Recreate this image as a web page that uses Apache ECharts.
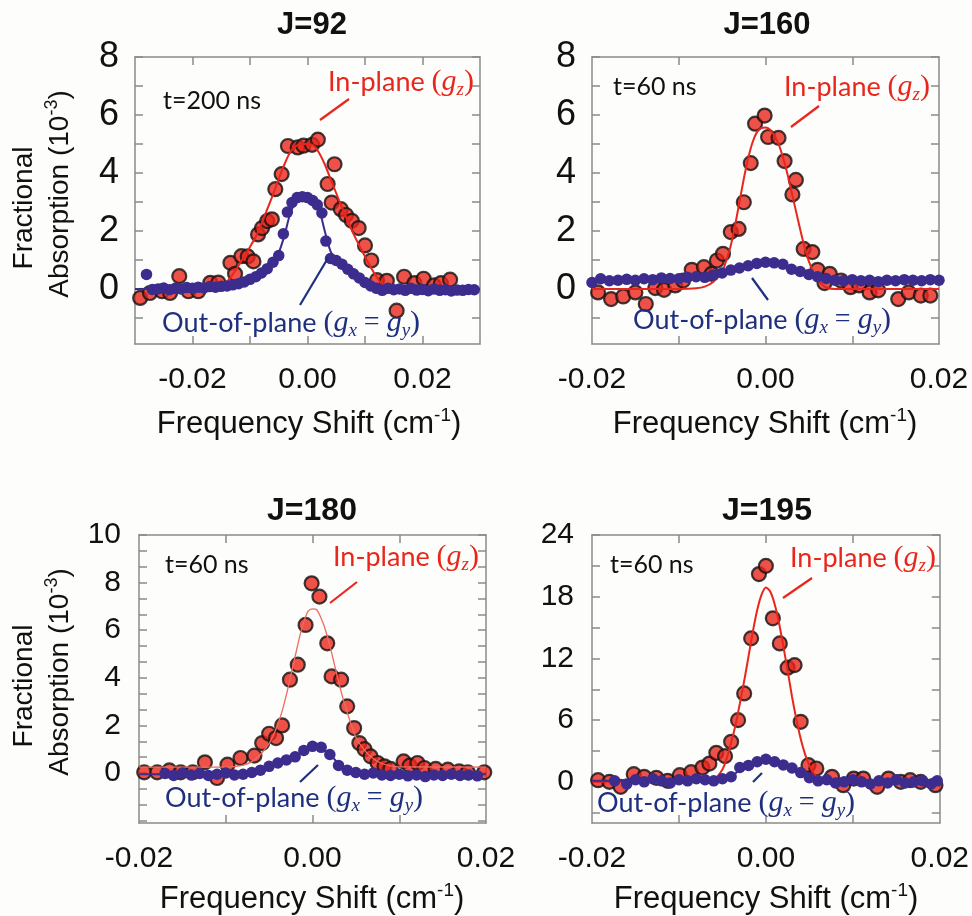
<!DOCTYPE html>
<html>
<head>
<meta charset="utf-8">
<script src="https://cdn.jsdelivr.net/npm/echarts@6/dist/echarts.min.js"></script>
<style>
  html, body { margin: 0; padding: 0; background: #fdfdfb; }
  #chart { width: 972px; height: 916px; }
</style>
</head>
<body>
<div id="chart"></div>
<script>
// tick / label values
const xTicksWide = [-0.02, -0.01, 0, 0.01, 0.02];
const xTicksNarrow = [-0.01, 0, 0.01];
const xLabels = [-0.02, 0, 0.02];
const yTicks8 = [-1, 0, 1, 2, 3, 4, 5, 6, 7, 8];
const yLabels8 = [0, 2, 4, 6, 8];
const yTicks10 = [-2, -4/3, -2/3, 0, 2/3, 4/3, 2, 8/3, 10/3, 4, 14/3, 16/3, 6, 20/3, 22/3, 8, 26/3, 28/3, 10];
const yLabels10 = [0, 2, 4, 6, 8, 10];
const yTicks24 = [-3, 0, 3, 6, 9, 12, 15, 18, 21, 24];
const yLabels24 = [0, 6, 12, 18, 24];

// J=92
const inJ92 = [[-0.0291,-0.31],[-0.0274,-0.14],[-0.0253,-0.08],[-0.0239,-0.14],[-0.0223,0.44],[-0.0207,-0.08],[-0.019,-0.08],[-0.0169,0.21],[-0.0155,0.22],[-0.0134,0.9],[-0.0126,0.52],[-0.0115,1.13],[-0.0104,1.12],[-0.0094,0.95],[-0.0086,1.88],[-0.0079,2.1],[-0.007,2.34],[-0.0062,2.4],[-0.0056,3.44],[-0.0045,3.96],[-0.0034,4.93],[-0.0017,4.88],[-0.0007,4.94],[0.0008,4.97],[0.0018,5.15],[0.0035,3.62],[0.0047,4.3],[0.0042,2.98],[0.0058,2.75],[0.0067,2.55],[0.0077,2.35],[0.0089,2.1],[0.01,1.5],[0.0111,0.98],[0.0121,0.3],[0.0138,0.28],[0.0155,-0.75],[0.0168,0.42],[0.0186,0.2],[0.0202,0.35],[0.022,0.12],[0.0232,0.2],[0.0248,0.32]];
const inFitJ92 = [[-0.03,0],[-0.02,0],[-0.016,0.02],[-0.015,0.08],[-0.014,0.25],[-0.013,0.5],[-0.012,0.8],[-0.011,1.12],[-0.01,1.45],[-0.009,1.8],[-0.008,2.25],[-0.007,2.75],[-0.006,3.25],[-0.005,3.8],[-0.004,4.3],[-0.003,4.72],[-0.002,4.93],[-0.001,5.0],[0,5.0],[0.001,4.95],[0.002,4.7],[0.003,4.3],[0.004,3.8],[0.005,3.3],[0.006,2.8],[0.007,2.35],[0.008,1.9],[0.009,1.5],[0.01,1.12],[0.011,0.75],[0.012,0.42],[0.013,0.15],[0.014,0.02],[0.015,0],[0.03,0]];
const outJ92 = [[-0.028,0.5],[-0.027,-0.02],[-0.026,0],[-0.025,0.03],[-0.024,-0.03],[-0.023,0.02],[-0.022,0],[-0.021,0.05],[-0.02,0.02],[-0.019,0.06],[-0.018,0.03],[-0.017,0.08],[-0.016,0.06],[-0.015,0.09],[-0.014,0.1],[-0.013,0.14],[-0.012,0.18],[-0.011,0.24],[-0.01,0.33],[-0.009,0.42],[-0.008,0.55],[-0.007,0.7],[-0.006,0.92],[-0.005,1.15],[-0.0042,1.9],[-0.0035,2.65],[-0.0027,2.98],[-0.0018,3.15],[-0.0009,3.18],[0,3.15],[0.0009,3.05],[0.0017,2.9],[0.0025,2.62],[0.0032,1.65],[0.004,1.05],[0.005,0.98],[0.006,0.85],[0.007,0.68],[0.008,0.52],[0.009,0.38],[0.01,0.22],[0.011,0.1],[0.012,0.02],[0.013,-0.05],[0.014,0.02],[0.015,-0.03],[0.016,0],[0.017,-0.05],[0.018,0.02],[0.019,-0.04],[0.02,-0.02],[0.021,-0.06],[0.022,0],[0.023,-0.05],[0.024,-0.03],[0.025,-0.07],[0.026,-0.04],[0.027,-0.05],[0.028,-0.02],[0.029,-0.03]];
const outFitJ92 = [[-0.03,0],[-0.02,0.02],[-0.015,0.08],[-0.012,0.18],[-0.01,0.32],[-0.008,0.55],[-0.006,0.92],[-0.005,1.25],[-0.004,1.85],[-0.003,2.6],[-0.002,3.0],[-0.001,3.15],[0,3.15],[0.001,3.05],[0.002,2.75],[0.003,2.0],[0.004,1.3],[0.005,1.0],[0.006,0.82],[0.008,0.5],[0.01,0.22],[0.012,0.04],[0.015,0],[0.03,0]];

// J=160
const inJ160 = [[-0.0193,-0.12],[-0.0178,-0.35],[-0.0164,-0.26],[-0.015,-0.12],[-0.0138,-0.52],[-0.0127,0.03],[-0.0117,-0.03],[-0.0104,0.12],[-0.0095,0.29],[-0.0085,0.66],[-0.0071,0.75],[-0.0062,0.52],[-0.0056,0.98],[-0.0049,1.21],[-0.004,1.96],[-0.0031,2.07],[-0.0025,2.99],[-0.0017,4.34],[-0.0012,5.7],[-0.0001,5.98],[0.0003,5.24],[0.0015,5.21],[0.0022,4.41],[0.0035,3.76],[0.0031,3.26],[0.0044,1.38],[0.0054,1.27],[0.006,0.66],[0.0068,0.2],[0.0074,0.52],[0.0087,0.29],[0.0098,0.06],[0.0108,0.12],[0.012,-0.12],[0.013,-0.05],[0.0153,-0.35],[0.0165,-0.12],[0.0179,-0.23],[0.019,-0.23]];
const inFitJ160 = [[-0.02,0],[-0.01,0],[-0.008,0.02],[-0.007,0.08],[-0.006,0.25],[-0.005,0.6],[-0.0045,1.0],[-0.004,1.5],[-0.0035,2.2],[-0.003,3.0],[-0.0025,3.8],[-0.002,4.5],[-0.0015,5.05],[-0.001,5.4],[-0.0005,5.55],[0,5.57],[0.0005,5.5],[0.001,5.3],[0.0015,5.0],[0.002,4.55],[0.0025,4.0],[0.003,3.35],[0.0035,2.7],[0.004,2.05],[0.0045,1.45],[0.005,0.95],[0.0055,0.6],[0.006,0.33],[0.0065,0.15],[0.007,0.05],[0.008,0],[0.02,0]];
const outJ160 = [[-0.02,0.22],[-0.019,0.35],[-0.018,0.28],[-0.017,0.3],[-0.016,0.33],[-0.015,0.3],[-0.014,0.35],[-0.013,0.32],[-0.012,0.38],[-0.011,0.36],[-0.01,0.35],[-0.009,0.4],[-0.008,0.42],[-0.007,0.4],[-0.006,0.48],[-0.005,0.55],[-0.004,0.65],[-0.003,0.72],[-0.002,0.8],[-0.001,0.88],[0,0.92],[0.001,0.9],[0.002,0.85],[0.003,0.68],[0.004,0.6],[0.005,0.5],[0.006,0.42],[0.007,0.36],[0.008,0.3],[0.009,0.28],[0.01,0.32],[0.011,0.28],[0.012,0.3],[0.013,0.25],[0.014,0.3],[0.015,0.28],[0.016,0.32],[0.017,0.3],[0.018,0.28],[0.019,0.32],[0.02,0.3]];
const outFitJ160 = [[-0.02,0.3],[-0.01,0.36],[-0.006,0.46],[-0.004,0.62],[-0.002,0.8],[0,0.9],[0.002,0.82],[0.004,0.62],[0.006,0.44],[0.008,0.34],[0.01,0.3],[0.02,0.3]];

// J=180
const inJ180 = [[-0.0194,0.03],[-0.0179,0.03],[-0.0165,0.11],[-0.0152,0.03],[-0.0138,0.03],[-0.0124,0.45],[-0.011,-0.21],[-0.0098,0.35],[-0.0083,0.63],[-0.0067,0.73],[-0.0058,1.26],[-0.005,1.65],[-0.0042,1.47],[-0.0035,2.0],[-0.0026,3.92],[-0.0017,4.55],[-0.0008,6.22],[-0.0001,7.97],[0.0008,7.41],[0.0017,5.45],[0.0022,4.06],[0.0033,3.92],[0.004,2.8],[0.0048,1.89],[0.0054,1.26],[0.006,1.0],[0.0067,0.7],[0.0075,0.42],[0.0083,0.28],[0.009,0.17],[0.0105,0.49],[0.0112,0.31],[0.0121,0.42],[0.0129,0.21],[0.0142,0.17],[0.0156,0.14],[0.0169,0.07],[0.0179,0.03],[0.0198,0.03]];
const inFitJ180 = [[-0.02,0.25],[-0.01,0.25],[-0.009,0.27],[-0.008,0.33],[-0.007,0.48],[-0.006,0.78],[-0.005,1.25],[-0.0045,1.6],[-0.004,2.05],[-0.0035,2.6],[-0.003,3.3],[-0.0025,4.1],[-0.002,4.9],[-0.0015,5.7],[-0.001,6.35],[-0.0005,6.8],[0,6.9],[0.0005,6.85],[0.001,6.5],[0.0015,6.0],[0.002,5.35],[0.0025,4.6],[0.003,3.85],[0.0035,3.15],[0.004,2.55],[0.0045,2.0],[0.005,1.5],[0.006,0.95],[0.007,0.6],[0.008,0.4],[0.009,0.3],[0.01,0.26],[0.02,0.25]];
const outJ180 = [[-0.017,-0.02],[-0.016,-0.1],[-0.015,0],[-0.014,-0.08],[-0.013,-0.02],[-0.012,-0.1],[-0.011,-0.05],[-0.01,0],[-0.009,-0.08],[-0.008,-0.05],[-0.007,0.02],[-0.006,0.12],[-0.005,0.28],[-0.004,0.42],[-0.003,0.55],[-0.002,0.68],[-0.001,0.95],[0,1.12],[0.001,1.08],[0.002,0.78],[0.003,0.32],[0.004,0.12],[0.005,0.02],[0.006,-0.05],[0.007,0],[0.008,-0.08],[0.009,-0.1],[0.01,-0.05],[0.011,-0.12],[0.012,-0.08],[0.013,-0.15],[0.014,-0.08],[0.015,-0.1],[0.016,-0.05],[0.017,-0.1],[0.018,-0.08],[0.019,-0.12]];
const outFitJ180 = [[-0.02,-0.05],[-0.008,-0.03],[-0.006,0.1],[-0.004,0.38],[-0.002,0.7],[-0.001,0.95],[0,1.1],[0.001,1.05],[0.002,0.8],[0.003,0.38],[0.004,0.1],[0.006,-0.05],[0.02,-0.05]];

// J=195
const inJ195 = [[-0.0193,0.16],[-0.018,0],[-0.0167,-0.49],[-0.0152,0.75],[-0.014,0.49],[-0.0126,0.39],[-0.0113,0.1],[-0.0099,0.65],[-0.0086,0.94],[-0.0073,1.39],[-0.0065,1.78],[-0.0057,2.82],[-0.0047,2.5],[-0.004,3.89],[-0.0032,6.0],[-0.0025,8.6],[-0.0017,13.95],[-0.0008,20.2],[0,21.0],[0.0008,15.9],[0.0016,13.46],[0.0025,11.1],[0.0033,11.35],[0.004,5.84],[0.0049,1.62],[0.0058,1.3],[0.0076,0.49],[0.0089,-0.32],[0.0101,0.32],[0.0112,0.32],[0.0128,-0.49],[0.0141,0.32],[0.0155,0],[0.0166,0.16],[0.0178,0],[0.0195,-0.32]];
const inFitJ195 = [[-0.02,0],[-0.007,0],[-0.006,0.2],[-0.005,1.2],[-0.0045,2.3],[-0.004,3.8],[-0.0035,5.5],[-0.003,7.6],[-0.0025,9.8],[-0.002,12.2],[-0.0015,14.6],[-0.001,16.7],[-0.0005,18.2],[0,18.9],[0.0005,18.5],[0.001,17.3],[0.0015,15.5],[0.002,13.2],[0.0025,10.8],[0.003,8.3],[0.0035,6.1],[0.004,4.2],[0.0045,2.7],[0.005,1.6],[0.0055,0.8],[0.006,0.3],[0.0065,0.1],[0.007,0],[0.02,0]];
const outJ195 = [[-0.0174,0.1],[-0.016,-0.2],[-0.015,0.2],[-0.014,0],[-0.013,0.3],[-0.012,0.1],[-0.011,-0.1],[-0.01,0.2],[-0.009,0.1],[-0.008,0.3],[-0.007,0.2],[-0.006,0.1],[-0.005,0.3],[-0.004,0.5],[-0.003,1.4],[-0.002,1.6],[-0.001,1.95],[0,2.2],[0.001,1.95],[0.002,1.65],[0.003,1.35],[0.004,0.9],[0.005,0.4],[0.006,0.1],[0.007,0.2],[0.008,-0.1],[0.009,0],[0.01,0.2],[0.011,0],[0.012,-0.2],[0.013,0.1],[0.014,-0.1],[0.015,0.2],[0.016,-0.1],[0.017,0],[0.018,0.1],[0.019,-0.2],[0.0197,0.1]];
const outFitJ195 = [[-0.02,0.1],[-0.006,0.1],[-0.004,0.5],[-0.003,1.2],[-0.002,1.6],[-0.001,1.95],[0,2.1],[0.001,1.95],[0.002,1.65],[0.003,1.3],[0.004,0.85],[0.005,0.4],[0.006,0.15],[0.02,0.05]];

const RED = '#e8261c', BLUE = '#3b2c8e', NAVY = '#1f2f80', AXIS = '#8a8a8a';
const FONT = '"Liberation Sans", Arial, sans-serif';
const SERIF = '"Liberation Serif", serif';

const panels = [
  { grid: {left: 135, top: 57, width: 345, height: 287}, x: [-0.03, 0.03], xTicks: xTicksWide, y: [-1.9, 8], yTicks: yTicks8, yLabels: yLabels8, yFont: 36, yMargin: 16,
    red: inJ92, redFit: inFitJ92, blue: outJ92, blueFit: outFitJ92, fitColor: RED, fitWidth: 2 },
  { grid: {left: 592, top: 57, width: 347, height: 287}, x: [-0.02, 0.02], xTicks: xTicksNarrow, y: [-1.9, 8], yTicks: yTicks8, yLabels: yLabels8, yFont: 36, yMargin: 16,
    red: inJ160, redFit: inFitJ160, blue: outJ160, blueFit: outFitJ160, fitColor: RED, fitWidth: 2 },
  { grid: {left: 139, top: 535, width: 347, height: 288}, x: [-0.02, 0.02], xTicks: xTicksNarrow, y: [-2.1, 10], yTicks: yTicks10, yLabels: yLabels10, yFont: 30, yMargin: 18,
    red: inJ180, redFit: inFitJ180, blue: outJ180, blueFit: outFitJ180, fitColor: '#f06a5e', fitWidth: 1.3 },
  { grid: {left: 592, top: 535, width: 348, height: 288}, x: [-0.02, 0.02], xTicks: xTicksNarrow, y: [-4, 24], yTicks: yTicks24, yLabels: yLabels24, yFont: 30, yMargin: 18,
    red: inJ195, redFit: inFitJ195, blue: outJ195, blueFit: outFitJ195, fitColor: RED, fitWidth: 2 }
];

const line = {onZero: false, lineStyle: {color: AXIS, width: 1.5}};
function tick(values) {
  return {inside: true, length: 8, customValues: values, lineStyle: {color: AXIS, width: 1.5}};
}

const grid = [], xAxis = [], yAxis = [], series = [];
panels.forEach(function (p, i) {
  grid.push(p.grid);
  xAxis[i] = {type: 'value', gridIndex: i, min: p.x[0], max: p.x[1], position: 'bottom', axisLine: line,
    axisTick: tick(p.xTicks), splitLine: {show: false},
    axisLabel: {customValues: xLabels, margin: 21, color: '#111', fontSize: 30, fontFamily: FONT,
      formatter: function (v) { return v.toFixed(2); }}};
  xAxis[4 + i] = {type: 'value', gridIndex: i, min: p.x[0], max: p.x[1], position: 'top', axisLine: line,
    axisTick: tick(p.xTicks), splitLine: {show: false}, axisLabel: {show: false}};
  yAxis[i] = {type: 'value', gridIndex: i, min: p.y[0], max: p.y[1], position: 'left', axisLine: line,
    axisTick: tick(p.yTicks), splitLine: {show: false},
    axisLabel: {customValues: p.yLabels, margin: p.yMargin, color: '#111', fontSize: p.yFont, fontFamily: FONT}};
  yAxis[4 + i] = {type: 'value', gridIndex: i, min: p.y[0], max: p.y[1], position: 'right', axisLine: line,
    axisTick: tick(p.yTicks), splitLine: {show: false}, axisLabel: {show: false}};

  series.push({type: 'scatter', xAxisIndex: i, yAxisIndex: i, data: p.red, symbolSize: 14, z: 2,
    itemStyle: {color: RED, borderColor: '#111', borderWidth: 2.2}});
  series.push({type: 'line', xAxisIndex: i, yAxisIndex: i, data: p.redFit, showSymbol: false, smooth: 0.25, z: 3,
    lineStyle: {color: p.fitColor, width: p.fitWidth}});
  series.push({type: 'line', xAxisIndex: i, yAxisIndex: i, data: p.blueFit, showSymbol: false, smooth: 0.3, z: 4,
    lineStyle: {color: BLUE, width: 2}});
  series.push({type: 'scatter', xAxisIndex: i, yAxisIndex: i, data: p.blue, symbolSize: 11.5, z: 5,
    itemStyle: {color: BLUE, opacity: 1}});
});

// text helpers
function txt(x, y, text, size, opts) {
  return {type: 'text', x: x, y: y, z: 20, style: Object.assign({text: text, fontSize: size, fontFamily: FONT, fill: '#111',
    textAlign: 'left', textVerticalAlign: 'middle'}, opts || {})};
}
function mathRich(color) {
  return {
    r: {fontSize: 27, fontFamily: 'Lato, sans-serif', fill: color, lineHeight: 34},
    m: {fontSize: 30, fontFamily: SERIF, fontStyle: 'italic', fill: color, lineHeight: 34},
    e: {fontSize: 28, fontFamily: SERIF, fill: color, lineHeight: 34},
    p: {fontSize: 30, fontFamily: SERIF, fill: color, lineHeight: 34},
    s: {fontSize: 19, fontFamily: SERIF, fontStyle: 'italic', fill: color, lineHeight: 18, verticalAlign: 'bottom'}
  };
}
function inPlane(x, y) {
  return txt(x, y, '{r|In-plane }{p|(}{m|g}{s|z}{p|)}', 27, {rich: mathRich(RED)});
}
function outPlane(x, y) {
  return txt(x, y, '{r|Out-of-plane }{p|(}{m|g}{s|x}{e| = }{m|g}{s|y}{p|)}', 27, {rich: mathRich(NAVY)});
}
function pointer(x1, y1, x2, y2, color) {
  return {type: 'line', z: 20, shape: {x1: x1, y1: y1, x2: x2, y2: y2}, style: {stroke: color, lineWidth: 2.2}};
}
function yTitle(yc) {
  return [
    {type: 'text', x: 24, y: yc + 8, rotation: Math.PI / 2, z: 20,
      style: {text: 'Fractional', fontSize: 28, fontFamily: FONT, fill: '#111', textAlign: 'center', textVerticalAlign: 'middle'}},
    {type: 'text', x: 60, y: yc - 6, rotation: Math.PI / 2, z: 20,
      style: {text: '{a|Absorption (10}{s|-3}{a|)}', fontSize: 28, fontFamily: FONT, fill: '#111', textAlign: 'center', textVerticalAlign: 'middle',
        rich: {a: {fontSize: 28, fontFamily: FONT, fill: '#111', lineHeight: 34},
               s: {fontSize: 18, fontFamily: FONT, fill: '#111', lineHeight: 18, verticalAlign: 'top'}}}}
  ];
}
function xTitle(xc, yc) {
  return {type: 'text', x: xc, y: yc, z: 20,
    style: {text: '{a|Frequency Shift (cm}{s|-1}{a|)}', fontSize: 31, fontFamily: FONT, fill: '#111', textAlign: 'center', textVerticalAlign: 'middle',
      rich: {a: {fontSize: 31, fontFamily: FONT, fill: '#111', lineHeight: 36},
             s: {fontSize: 19, fontFamily: FONT, fill: '#111', lineHeight: 19, verticalAlign: 'top'}}}};
}
const bold = {fontWeight: 'bold', textAlign: 'center'};

const graphic = [
  txt(312, 25, 'J=92', 31, bold), txt(767, 25, 'J=160', 31, bold),
  txt(312, 511, 'J=180', 32, bold), txt(767, 511, 'J=195', 32, bold),
  txt(163, 101, 't=200 ns', 25, {fontFamily: 'Lato, sans-serif'}),
  txt(613, 87, 't=60 ns', 25, {fontFamily: 'Lato, sans-serif'}),
  txt(165, 565, 't=60 ns', 25, {fontFamily: 'Lato, sans-serif'}),
  txt(610, 565, 't=60 ns', 25, {fontFamily: 'Lato, sans-serif'}),
  inPlane(328, 82), inPlane(784, 87), inPlane(333, 557), inPlane(790, 558),
  outPlane(162, 323), outPlane(633, 320), outPlane(165, 798), outPlane(597, 803),
  pointer(349, 99, 320, 120, RED), pointer(328, 258, 300, 305, NAVY),
  pointer(819, 106, 791, 127, RED), pointer(752, 278, 768, 300, NAVY),
  pointer(357, 582, 330, 603, RED), pointer(318, 765, 300, 782, NAVY),
  pointer(812, 578, 783, 598, RED), pointer(762, 773, 753, 782, NAVY),
  xTitle(309, 424), xTitle(765, 424), xTitle(312, 899), xTitle(766, 899)
].concat(yTitle(200), yTitle(678));

const chart = echarts.init(document.getElementById('chart'));
chart.setOption({
  backgroundColor: '#fdfdfb',
  animation: false,
  grid: grid,
  xAxis: xAxis,
  yAxis: yAxis,
  series: series,
  graphic: graphic
});
</script>
</body>
</html>
